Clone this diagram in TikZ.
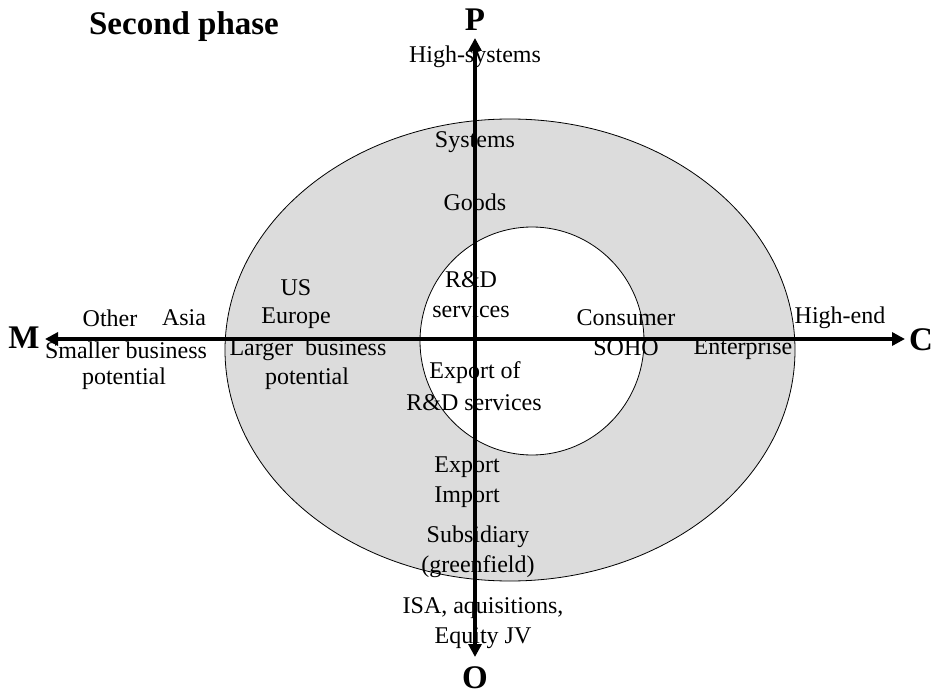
\documentclass[tikz,border=0pt]{standalone}
\usepackage{fontspec}
\setmainfont{Liberation Serif}
\usetikzlibrary{arrows.meta}
\definecolor{ringgray}{HTML}{DCDCDC}
\begin{document}
\begin{tikzpicture}[x=1pt,y=-1pt,
  lbl/.style={font=\fontsize{24}{30}\selectfont, inner sep=0pt, align=center},
  axislbl/.style={font=\fontsize{33}{36}\selectfont\bfseries, inner sep=0pt},
  axisline/.style={line width=4pt, {Triangle[length=13pt,width=13pt]}-{Triangle[length=13pt,width=13pt]}},
  ring/.style={draw=black, line width=0.8pt}]
\useasboundingbox (0,0) rectangle (943,695);

% outer (grey) and inner (white) ellipses
\path[ring, fill=ringgray] (510,350) ellipse [x radius=285, y radius=231];
\path[ring, fill=white] (532,341) ellipse [x radius=112, y radius=114];

% title and axis letters
\node[axislbl] (title) at (184,27) {Second phase};
\node[axislbl] (P) at (475,20) {P};
\node[axislbl] (O) at (475,678) {O};
\node[axislbl] (M) at (24,338) {M};
\node[axislbl] (C) at (921,340) {C};

% product axis labels
\node[lbl] (hisys) at (475,57) {High-systems};
\node[lbl] (sys) at (475,142) {Systems};
\node[lbl] (goods) at (475,202) {Goods};
\node[lbl] (rd) at (471,280) {R\&D};
\node[lbl] (rdserv) at (471,310) {services};

% operation axis labels
\node[lbl] (expof) at (475,373) {Export of};
\node[lbl] (exprd) at (474,403) {R\&D services};
\node[lbl] (export) at (467,467) {Export};
\node[lbl] (import) at (467,497) {Import};
\node[lbl] (subs) at (478,537) {Subsidiary};
\node[lbl] (green) at (478,567) {(greenfield)};
\node[lbl] (isa) at (483,608) {ISA, aquisitions,};
\node[lbl] (eqjv) at (483,638) {Equity JV};

% market axis labels
\node[lbl] (other) at (110,318) {Other};
\node[lbl] (asia) at (184,318) {Asia};
\node[lbl] (us) at (296,288) {US};
\node[lbl] (europe) at (296,318) {Europe};
\node[lbl] (smaller) at (126,350) {Smaller business};
\node[lbl] (smallpot) at (124,379) {potential};
\node[lbl] (larger) at (308,350) {Larger\ \ business};
\node[lbl] (largepot) at (307,379) {potential};

% customer axis labels
\node[lbl] (consumer) at (626,318) {Consumer};
\node[lbl] (soho) at (626,348) {SOHO};
\node[lbl] (enterprise) at (743,349) {Enterprise};
\node[lbl] (highend) at (840,318) {High-end};

% axes
\coordinate (west) at (45,339);
\coordinate (east) at (905,339);
\coordinate (north) at (475,38);
\coordinate (south) at (475,657);
\draw[axisline] (west) -- (east);
\draw[axisline] (north) -- (south);
\end{tikzpicture}
\end{document}
